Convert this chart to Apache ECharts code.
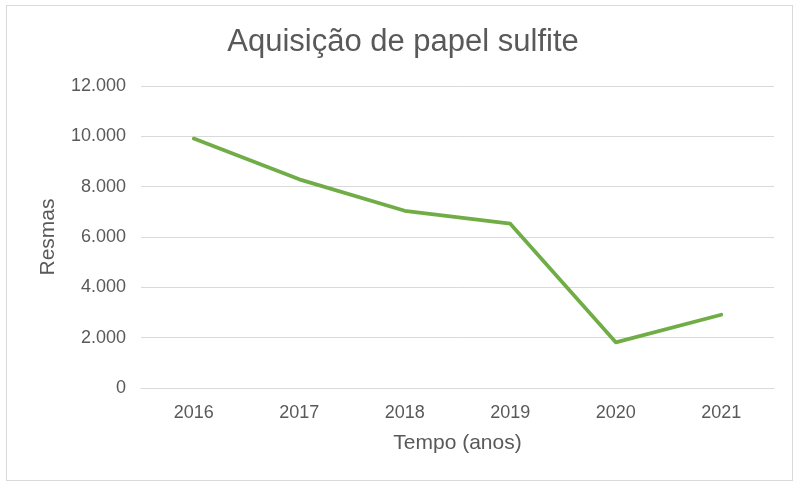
<!DOCTYPE html>
<html>
<head>
<meta charset="utf-8">
<script src="https://cdn.jsdelivr.net/npm/echarts@6/dist/echarts.min.js"></script>
<style>
  html, body { margin: 0; padding: 0; background: #ffffff; }
  #frame { position: absolute; left: 6px; top: 5px; width: 787px; height: 476px; border: 1px solid #d9d9d9; box-sizing: border-box; }
  #chart { width: 795px; height: 484px; position: absolute; left: 0; top: 0; }
</style>
</head>
<body>
<div id="frame"></div>
<div id="chart"></div>
<script>
// Annual purchases of sulfite paper (reams)
const years = ['2016', '2017', '2018', '2019', '2020', '2021'];
const resmas = [9910, 8290, 7040, 6530, 1815, 2910];

const fmt = v => String(v).replace(/\B(?=(\d{3})+(?!\d))/g, '.');

const chart = echarts.init(document.getElementById('chart'), null, { renderer: 'canvas' });
chart.setOption({
  animation: false,
  backgroundColor: 'transparent',
  textStyle: { fontFamily: 'Liberation Sans, Arial, sans-serif' },
  title: {
    text: 'Aquisição de papel sulfite',
    left: 398,
    textAlign: 'center',
    top: 22,
    textStyle: { color: '#595959', fontSize: 31, fontWeight: 'normal', fontFamily: 'Liberation Sans, Arial, sans-serif' }
  },
  grid: { left: 141, right: 21, top: 86, bottom: 96 },
  xAxis: {
    type: 'category',
    data: years,
    boundaryGap: true,
    name: 'Tempo (anos)',
    nameLocation: 'middle',
    nameGap: 45,
    nameTextStyle: { color: '#595959', fontSize: 21 },
    axisLine: { lineStyle: { color: '#d9d9d9', width: 1 } },
    axisTick: { show: false },
    axisLabel: { color: '#595959', fontSize: 18, margin: 16 }
  },
  yAxis: {
    type: 'value',
    min: 0,
    max: 12000,
    interval: 2000,
    name: 'Resmas',
    nameLocation: 'middle',
    nameGap: 82,
    nameRotate: 90,
    nameTextStyle: { color: '#595959', fontSize: 21 },
    axisLine: { show: false },
    axisTick: { show: false },
    axisLabel: { color: '#595959', fontSize: 18, margin: 15, formatter: v => fmt(v) },
    splitLine: { lineStyle: { color: '#d9d9d9', width: 1 } }
  },
  series: [{
    type: 'line',
    data: resmas,
    showSymbol: false,
    symbol: 'none',
    lineStyle: { color: '#70ad47', width: 3.75, join: 'round', cap: 'round' }
  }]
});
</script>
</body>
</html>
